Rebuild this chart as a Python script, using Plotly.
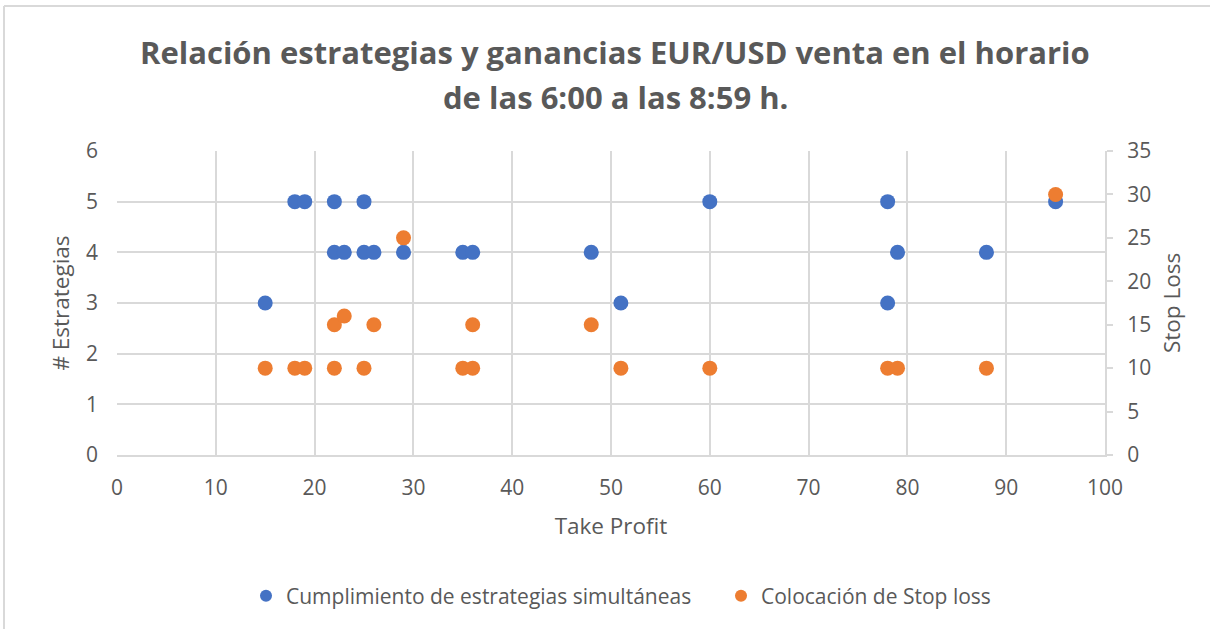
import plotly.graph_objects as go

# Cumplimiento de estrategias simultáneas (Take Profit, # Estrategias)
tp_strat = [15, 18, 19, 22, 25, 22, 23, 25, 26, 29, 35, 36, 48, 51, 60, 78, 78, 79, 88, 95]
n_strat = [3, 5, 5, 5, 5, 4, 4, 4, 4, 4, 4, 4, 4, 3, 5, 5, 3, 4, 4, 5]

# Colocación de Stop loss (Take Profit, Stop Loss)
tp_sl = [15, 18, 19, 22, 25, 22, 23, 26, 29, 35, 36, 36, 48, 51, 60, 78, 79, 88, 95]
stop_loss = [10, 10, 10, 10, 10, 15, 16, 15, 25, 10, 10, 15, 15, 10, 10, 10, 10, 10, 30]

x_ticks = list(range(0, 101, 10))
y_ticks = list(range(0, 7))
y2_ticks = list(range(0, 36, 5))

title_lines = ["Relación estrategias y ganancias EUR/USD venta en el horario",
               "de las 6:00 a las 8:59 h."]

BLUE = "#4472C4"
ORANGE = "#ED7D31"
TXT = "#595959"
GRID = "#D9D9D9"
FONT = "Open Sans"

fig = go.Figure()
fig.add_trace(go.Scatter(x=tp_strat, y=n_strat, mode="markers",
                         name="Cumplimiento de estrategias simultáneas",
                         marker=dict(color=BLUE, size=15), yaxis="y"))
fig.add_trace(go.Scatter(x=tp_sl, y=stop_loss, mode="markers",
                         name="Colocación de Stop loss",
                         marker=dict(color=ORANGE, size=15), yaxis="y2"))

fig.update_layout(
    width=1210, height=629,
    margin=dict(l=117, r=105, t=151, b=174),
    paper_bgcolor="white", plot_bgcolor="white",
    font=dict(family=FONT, color=TXT, size=21),
    xaxis=dict(range=[0, 100], tickvals=x_ticks, showgrid=True, gridcolor=GRID, gridwidth=2,
               zeroline=False, showline=True, linecolor=GRID, linewidth=2,
               title=dict(text="Take Profit", font=dict(size=22.5), standoff=18),
               tickfont=dict(size=21), ticks="", ticklabelstandoff=13),
    yaxis=dict(range=[0, 6], tickvals=y_ticks, showgrid=True, gridcolor=GRID, gridwidth=2,
               zeroline=False, showline=False,
               title=dict(text="# Estrategias", font=dict(size=22.5), standoff=10),
               tickfont=dict(size=21), ticklabelstandoff=18),
    yaxis2=dict(range=[0, 35], tickvals=y2_ticks, overlaying="y", side="right", showgrid=False,
                zeroline=False, showline=True, linecolor=GRID, linewidth=2,
                ticks="outside", ticklen=6, tickcolor=GRID, tickwidth=2,
                title=dict(text="Stop Loss", font=dict(size=22.5), standoff=14),
                tickfont=dict(size=21), ticklabelstandoff=10),
    legend=dict(orientation="h", x=(246 - 117) / 988, xanchor="left", y=-(596 - 455) / 304, yanchor="middle",
                font=dict(size=21), itemsizing="constant", traceorder="normal",
                itemwidth=30, entrywidth=430, entrywidthmode="pixels"),
    showlegend=True,
)

for txt, py in zip(title_lines, [52, 97]):
    fig.add_annotation(text="<b>" + txt + "</b>", xref="paper", yref="paper",
                       x=(615 - 117) / 988, y=(455 - py) / 304, xanchor="center", yanchor="middle",
                       showarrow=False, font=dict(family=FONT, size=31, color=TXT))

fig.add_shape(type="line", xref="paper", yref="paper",
              x0=(4 - 117) / 988, x1=1.2, y0=(455 - 6) / 304, y1=(455 - 6) / 304,
              line=dict(color="#D9D9D9", width=2))
fig.add_shape(type="line", xref="paper", yref="paper",
              x0=(4 - 117) / 988, x1=(4 - 117) / 988, y0=(455 - 6) / 304, y1=-0.6,
              line=dict(color="#D9D9D9", width=2))

fig.write_html("out.html", config={"displayModeBar": False},
               post_script="document.body.style.margin='0';document.body.style.overflow='hidden';")
